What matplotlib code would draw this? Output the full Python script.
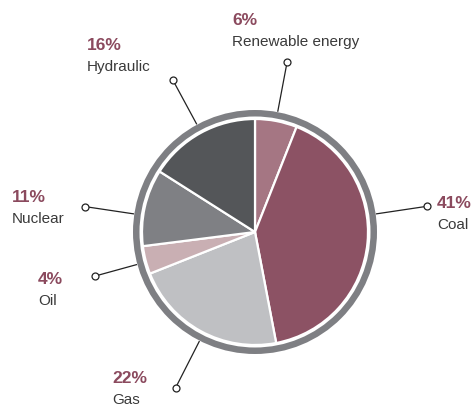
import numpy as np
import matplotlib
matplotlib.use('Agg')
import matplotlib.pyplot as plt
from matplotlib.patches import Circle

# energy mix, clockwise from 12 o'clock
sources = ['Renewable energy', 'Coal', 'Gas', 'Oil', 'Nuclear', 'Hydraulic']
shares = [6, 41, 22, 4, 11, 16]
colours = ['#a57683', '#8c5264', '#bfc0c3', '#c9afb3', '#7f8084', '#545659']

# leader line angles (deg), lengths, and label baseline offset from the end dot
lead_ang = [79.3, 8.5, -117.0, 195.4, 171.5, 118.4]
lead_len = [173, 174, 175, 166, 172, 173]
txt_off = [(-55, 37), (10, -2), (-63, 5), (-57, -8), (-73, 5), (-86, 30)]

W, H = 472, 408
fig = plt.figure(figsize=(W / 100, H / 100), dpi=100)
ax = fig.add_axes([0, 0, 1, 1])

cx, cy = 255, H - 232
R = 113

# grey outer ring
ax.add_patch(Circle((cx, cy), 122, facecolor='#7e7f83', edgecolor='none', zorder=1))
ax.add_patch(Circle((cx, cy), 115.5, facecolor='white', edgecolor='none', zorder=2))

wedges, _ = ax.pie(shares, colors=colours, startangle=90, counterclock=False,
                   center=(cx, cy), radius=R,
                   wedgeprops=dict(edgecolor='white', linewidth=1.6))
for w in wedges:
    w.set_zorder(3)
ax.set_xlim(0, W)
ax.set_ylim(0, H)
ax.set_aspect('equal')
ax.axis('off')

fam = ['Liberation Sans Narrow', 'Liberation Sans', 'DejaVu Sans']
for name, pct, a, L, off in zip(sources, shares, lead_ang, lead_len, txt_off):
    t = np.deg2rad(a)
    x0, y0 = cx + 123 * np.cos(t), cy + 123 * np.sin(t)
    x1, y1 = cx + L * np.cos(t), cy + L * np.sin(t)
    ax.plot([x0, x1], [y0, y1], color='#222222', lw=0.9, zorder=4)
    ax.plot(x1, y1, 'o', ms=5, mfc='white', mec='#222222', mew=0.9, zorder=5)
    tx, ty = x1 + off[0], y1 + off[1]
    ax.text(tx, ty, f'{pct}%', color='#8b4a5e', fontsize=12.5, fontweight='bold',
            family=fam, ha='left', va='baseline')
    ax.text(tx, ty - 21, name, color='#3a3a3a', fontsize=11,
            family=fam, ha='left', va='baseline')

fig.savefig('out.png', dpi=100)
